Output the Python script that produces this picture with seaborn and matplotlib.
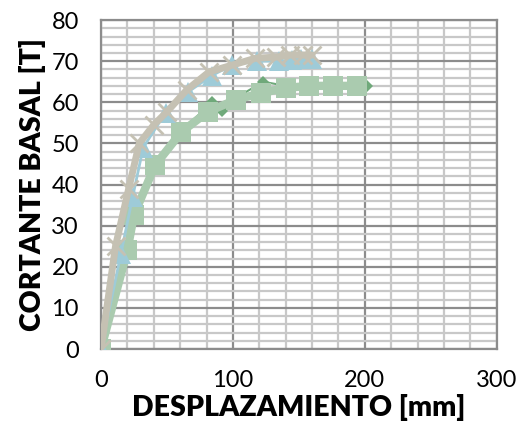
import matplotlib
matplotlib.use("Agg")
import matplotlib.pyplot as plt
import seaborn as sns
from matplotlib.ticker import MultipleLocator

# curvas de capacidad (desplazamiento [mm], cortante basal [T])
x_diamantes = [0, 20, 25, 41, 61, 84, 92, 102, 123, 140, 160, 180, 202]
y_diamantes = [0, 24, 33, 45, 53, 60, 58, 61, 65, 64, 64, 64, 64]

x_cuadros = [0, 20, 25, 41, 61, 81, 102, 121, 140, 158, 176, 194]
y_cuadros = [0, 24, 32.6, 44.7, 52.8, 57.7, 60.6, 62.2, 63.5, 64, 64, 64]

x_triang = [0, 15, 24, 32, 49, 66, 84, 99, 118, 135, 145, 152, 160]
y_triang = [0, 23, 37, 49, 57.5, 62.5, 66.5, 69, 70, 70, 70.3, 70.5, 70.5]

x_cruces = [0, 11, 21, 29, 40, 50, 65, 82, 99, 117, 133, 143, 153, 160]
y_cruces = [0, 25, 39, 50, 54.5, 57.7, 63, 67.4, 69, 70.7, 71, 71.5, 71.5, 71.5]

sns.set_style("white")
plt.rcParams["font.family"] = ["Lato", "DejaVu Sans"]
plt.rcParams["text.color"] = "black"
plt.rcParams["xtick.color"] = "black"
plt.rcParams["ytick.color"] = "black"
plt.rcParams["axes.labelcolor"] = "black"

fig = plt.figure(figsize=(5.22, 4.36), dpi=100)
ax = fig.add_axes([0.1935, 0.1995, 0.758, 0.7545])

sns.lineplot(x=x_diamantes, y=y_diamantes, sort=False, ax=ax, color="#6FA97A",
             linewidth=1.5, marker="D", markersize=6, markeredgewidth=0, zorder=3)
sns.lineplot(x=x_cuadros, y=y_cuadros, sort=False, ax=ax, color="#AACBAF",
             linewidth=6, marker="s", markersize=14, markeredgewidth=0, zorder=4)
sns.lineplot(x=x_triang, y=y_triang, sort=False, ax=ax, color="#9ECBD8",
             linewidth=2, marker="^", markersize=14, markeredgewidth=0, zorder=5)
sns.lineplot(x=x_cruces, y=y_cruces, sort=False, ax=ax, color="#C5C1B3",
             linewidth=5, marker="x", markersize=13, markeredgewidth=2,
             markeredgecolor="#C5C1B3", zorder=6)

ax.set_xlim(0, 300)
ax.set_ylim(0, 80)
ax.xaxis.set_major_locator(MultipleLocator(100))
ax.xaxis.set_minor_locator(MultipleLocator(20))
ax.yaxis.set_major_locator(MultipleLocator(10))
ax.yaxis.set_minor_locator(MultipleLocator(2))
ax.grid(which="minor", color="#C8C8C8", linewidth=1.6, zorder=0)
ax.grid(which="major", color="#8C8C8C", linewidth=1.6, zorder=1)
ax.set_axisbelow(True)
for s in ax.spines.values():
    s.set_color("#8C8C8C")
    s.set_linewidth(1.6)

ax.tick_params(which="both", length=0)
ax.tick_params(axis="y", pad=16, labelsize=17)
ax.tick_params(axis="x", pad=15, labelsize=17)

ax.set_xlabel("DESPLAZAMIENTO [mm]", fontsize=20.5, fontweight="heavy", labelpad=2)
ax.set_ylabel("CORTANTE BASAL [T]", fontsize=20.5, fontweight="heavy", labelpad=4)

fig.savefig("out.png", dpi=100)
